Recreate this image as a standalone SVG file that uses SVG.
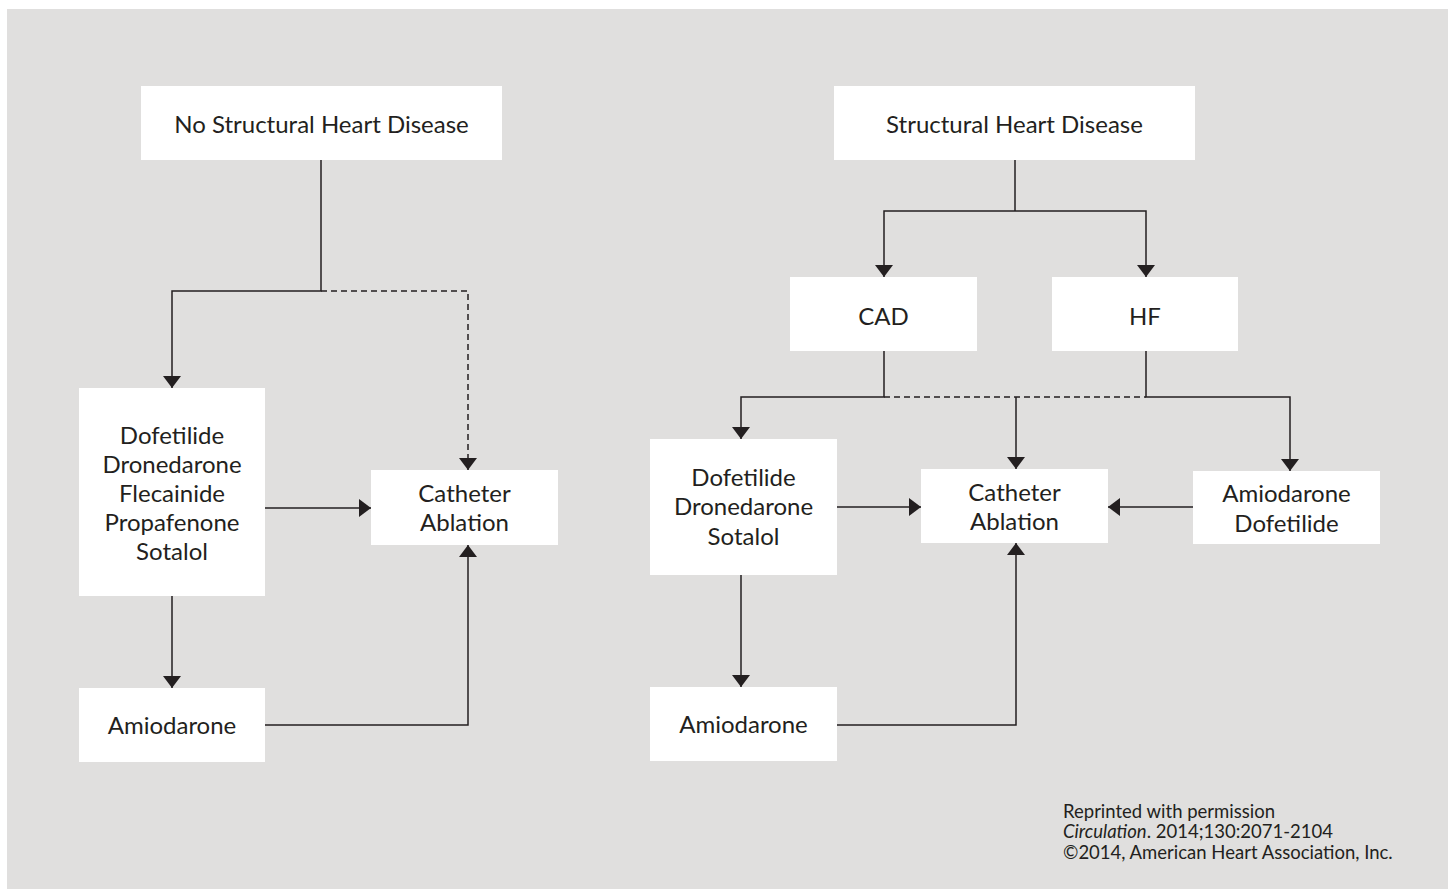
<svg xmlns="http://www.w3.org/2000/svg" width="1448" height="889" viewBox="0 0 1448 889">
<defs>
<style>
.bg{fill:#e0dfde}
.box{fill:#ffffff}
.t{font-family:Lato,"Open Sans","Liberation Sans",sans-serif;font-size:24px;fill:#231f20;text-anchor:middle}
.f{font-family:Lato,"Open Sans","Liberation Sans",sans-serif;font-size:18.5px;fill:#231f20}
.ln{fill:none;stroke:#231f20;stroke-width:1.5}
.ds{fill:none;stroke:#231f20;stroke-width:1.5;stroke-dasharray:6 4}
</style>
<marker id="ah" viewBox="0 0 12 18" refX="12" refY="9" markerWidth="12" markerHeight="18" markerUnits="userSpaceOnUse" orient="auto">
<path d="M0,0 L12,9 L0,18 Z" fill="#231f20"/>
</marker>
</defs>
<rect class="bg" x="7" y="9" width="1441" height="880"/>

<g id="connectors">
<path class="ln" d="M321,160 V291 H172 V388" marker-end="url(#ah)"/>
<path class="ds" d="M321,291 H468 V470" marker-end="url(#ah)"/>
<path class="ln" d="M264,508 H371" marker-end="url(#ah)"/>
<path class="ln" d="M172,596 V688" marker-end="url(#ah)"/>
<path class="ln" d="M264,725 H468 V545" marker-end="url(#ah)"/>
<path class="ln" d="M1015,160 V211"/>
<path class="ln" d="M1015,211 H884 V277" marker-end="url(#ah)"/>
<path class="ln" d="M1015,211 H1146 V277" marker-end="url(#ah)"/>
<path class="ln" d="M884,351 V397 H741 V439" marker-end="url(#ah)"/>
<path class="ln" d="M1146,351 V397 H1290 V471" marker-end="url(#ah)"/>
<path class="ds" d="M884,397 H1146"/>
<path class="ln" d="M1016,397 V469" marker-end="url(#ah)"/>
<path class="ln" d="M837,507 H921" marker-end="url(#ah)"/>
<path class="ln" d="M1193,507 H1108" marker-end="url(#ah)"/>
<path class="ln" d="M741,575 V687" marker-end="url(#ah)"/>
<path class="ln" d="M837,725 H1016 V543" marker-end="url(#ah)"/>
</g>

<g id="no-shd">
<rect class="box" x="141" y="86" width="361" height="74"/>
<text class="t" x="321.5" y="133">No Structural Heart Disease</text>
</g>
<g id="shd">
<rect class="box" x="834" y="86" width="361" height="74"/>
<text class="t" x="1014.5" y="133">Structural Heart Disease</text>
</g>
<g id="cad">
<rect class="box" x="790" y="277" width="187" height="74"/>
<text class="t" x="883.5" y="325">CAD</text>
</g>
<g id="hf">
<rect class="box" x="1052" y="277" width="186" height="74"/>
<text class="t" x="1145" y="325">HF</text>
</g>
<g id="left-drugs">
<rect class="box" x="79" y="388" width="186" height="208"/>
<text class="t" x="172" y="444">Dofetilide</text>
<text class="t" x="172" y="473">Dronedarone</text>
<text class="t" x="172" y="502">Flecainide</text>
<text class="t" x="172" y="531">Propafenone</text>
<text class="t" x="172" y="560">Sotalol</text>
</g>
<g id="left-ablation">
<rect class="box" x="371" y="470" width="187" height="75"/>
<text class="t" x="464.5" y="502">Catheter</text>
<text class="t" x="464.5" y="531">Ablation</text>
</g>
<g id="left-amio">
<rect class="box" x="79" y="688" width="186" height="74"/>
<text class="t" x="172" y="734">Amiodarone</text>
</g>
<g id="right-drugs">
<rect class="box" x="650" y="439" width="187" height="136"/>
<text class="t" x="743.5" y="486">Dofetilide</text>
<text class="t" x="743.5" y="515">Dronedarone</text>
<text class="t" x="743.5" y="545">Sotalol</text>
</g>
<g id="right-ablation">
<rect class="box" x="921" y="469" width="187" height="74"/>
<text class="t" x="1014.5" y="501">Catheter</text>
<text class="t" x="1014.5" y="530">Ablation</text>
</g>
<g id="hf-drugs">
<rect class="box" x="1193" y="471" width="187" height="73"/>
<text class="t" x="1286.5" y="502">Amiodarone</text>
<text class="t" x="1286.5" y="532">Dofetilide</text>
</g>
<g id="right-amio">
<rect class="box" x="650" y="687" width="187" height="74"/>
<text class="t" x="743.5" y="733">Amiodarone</text>
</g>

<g id="footer">
<text class="f" x="1063" y="818">Reprinted with permission</text>
<text class="f" x="1063" y="838"><tspan font-style="italic">Circulation</tspan>. 2014;130:2071-2104</text>
<text class="f" x="1063" y="859">©2014, American Heart Association, Inc.</text>
</g>
</svg>
